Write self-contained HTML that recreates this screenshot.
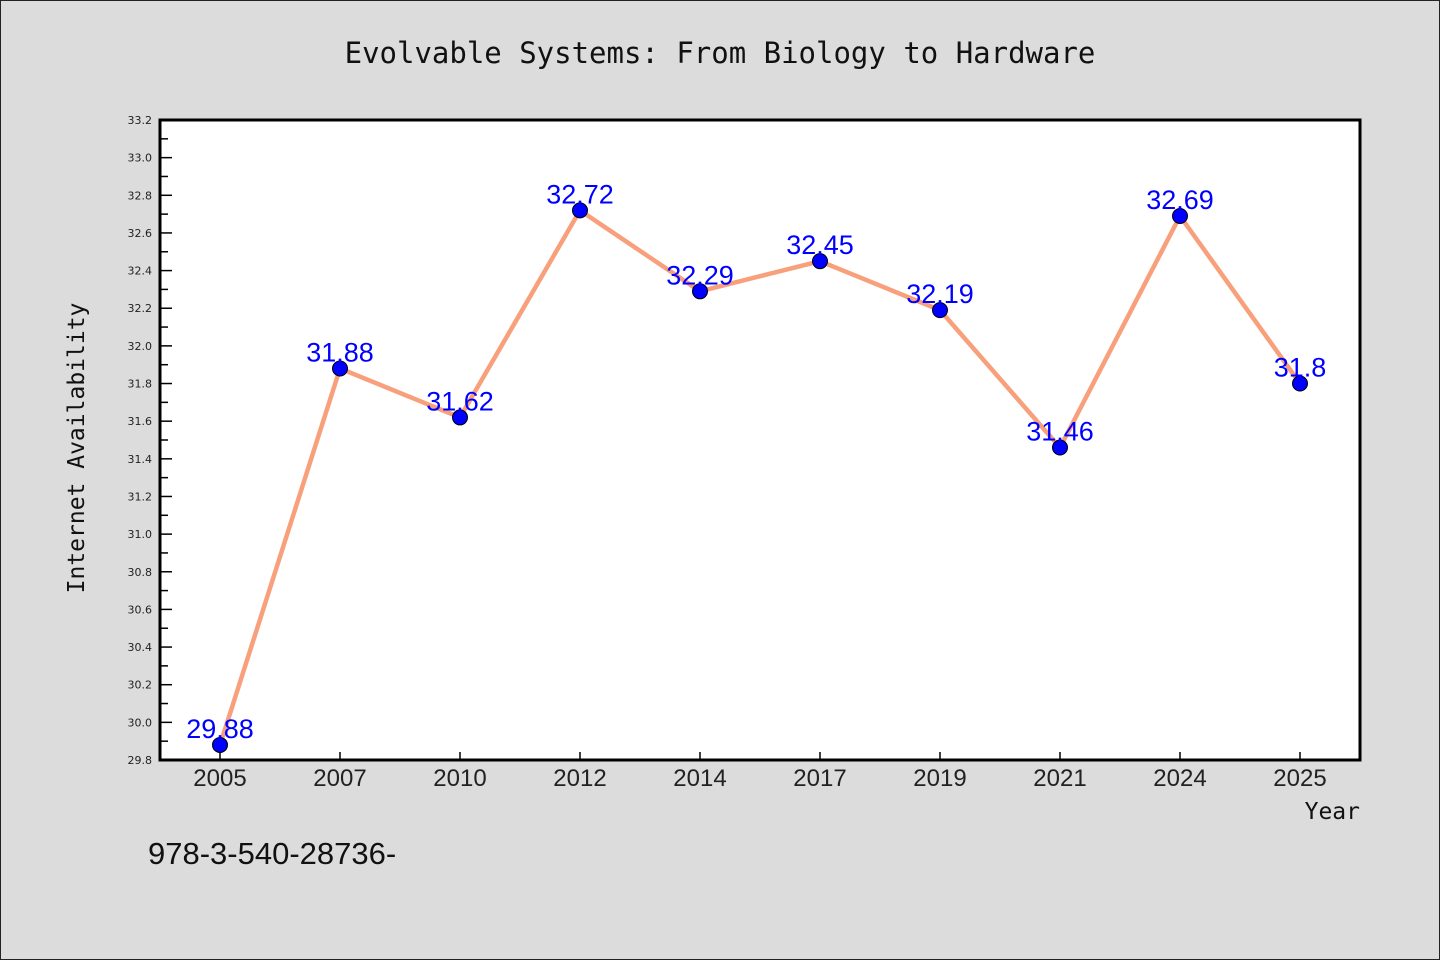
<!DOCTYPE html>
<html><head><meta charset="utf-8"><style>
html,body{margin:0;padding:0;background:#dcdcdc;}
svg{display:block;}
</style></head><body>
<svg width="1440" height="960" xmlns="http://www.w3.org/2000/svg">
<rect x="0.5" y="0.5" width="1439" height="959" fill="#dcdcdc" stroke="#222"/>
<text x="720" y="63" text-anchor="middle" font-family="DejaVu Sans Mono, Liberation Mono, monospace" font-size="29" fill="#111">Evolvable Systems: From Biology to Hardware</text>
<rect x="160" y="120" width="1200" height="640" fill="#fff"/>
<g id="yaxis"></g>
<g id="xaxis"></g>
<g id="series"></g>
<rect x="160" y="120" width="1200" height="640" fill="none" stroke="#000" stroke-width="3"/>
<text transform="translate(84,448) rotate(-90)" text-anchor="middle" font-family="DejaVu Sans Mono, Liberation Mono, monospace" font-size="23" fill="#111">Internet Availability</text>
<text x="1360" y="819" text-anchor="end" font-family="DejaVu Sans Mono, Liberation Mono, monospace" font-size="23" fill="#111">Year</text>
<text x="148" y="864" font-family="Liberation Sans, DejaVu Sans, sans-serif" font-size="31" fill="#111">978-3-540-28736-</text>
</svg>
<script>
const categories=["2005","2007","2010","2012","2014","2017","2019","2021","2024","2025"];
const values=[29.88,31.88,31.62,32.72,32.29,32.45,32.19,31.46,32.69,31.8];
const valueLabels=["29.88","31.88","31.62","32.72","32.29","32.45","32.19","31.46","32.69","31.8"];
const yTicks=[29.8,30.0,30.2,30.4,30.6,30.8,31.0,31.2,31.4,31.6,31.8,32.0,32.2,32.4,32.6,32.8,33.0,33.2];
const yMin=29.8,yMax=33.2;
const L=160,R=1360,T=120,B=760;
const NS="http://www.w3.org/2000/svg";
function y(v){return B-(v-yMin)/(yMax-yMin)*(B-T);}
function x(i){const w=(R-L)/categories.length;return L+w*(i+0.5);}
function mk(tag,attrs,parent){const e=document.createElementNS(NS,tag);for(const k in attrs)e.setAttribute(k,attrs[k]);parent.appendChild(e);return e;}
const ya=document.getElementById('yaxis');
yTicks.forEach((t,i)=>{
  const l=mk('line',{x1:L,x2:L+12,y1:y(t),y2:y(t),stroke:'#000','stroke-width':1.5},ya);
  
  
  const tx=mk('text',{x:L-8,y:y(t)+4,'text-anchor':'end','font-family':'DejaVu Sans, Liberation Sans, sans-serif','font-size':11,fill:'#222'},ya);
  tx.textContent=t.toFixed(1);
  
  
  if(i<yTicks.length-1){
    const m=(t+yTicks[i+1])/2;
    const ml=mk('line',{x1:L,x2:L+8,y1:y(m),y2:y(m),stroke:'#000','stroke-width':1.5},ya);
    
    
  }
});
const xa=document.getElementById('xaxis');
categories.forEach((c,i)=>{
  const l=mk('line',{x1:x(i),x2:x(i),y1:B,y2:B-8,stroke:'#000','stroke-width':1.5},xa);
  
  
  const tx=mk('text',{x:x(i),y:B+26,'text-anchor':'middle','font-family':'Liberation Sans, DejaVu Sans, sans-serif','font-size':24,fill:'#222'},xa);
  tx.textContent=c;
  
  
});
const s=document.getElementById('series');
const pl=mk('polyline',{points:values.map((v,i)=>x(i)+','+y(v)).join(' '),fill:'none',stroke:'#f8a07c','stroke-width':4.5,'stroke-linejoin':'round'},s);


values.forEach((v,i)=>{
  const c=mk('circle',{cx:x(i),cy:y(v),r:7.5,fill:'#0000ff',stroke:'#000','stroke-width':1},s);
  
  
});
values.forEach((v,i)=>{
  const t=mk('text',{x:x(i),y:y(v)-7,'text-anchor':'middle','font-family':'Liberation Sans, DejaVu Sans, sans-serif','font-size':27,fill:'#0000ff'},s);
  t.textContent=valueLabels[i];
  
  
});
</script>
</body></html>
